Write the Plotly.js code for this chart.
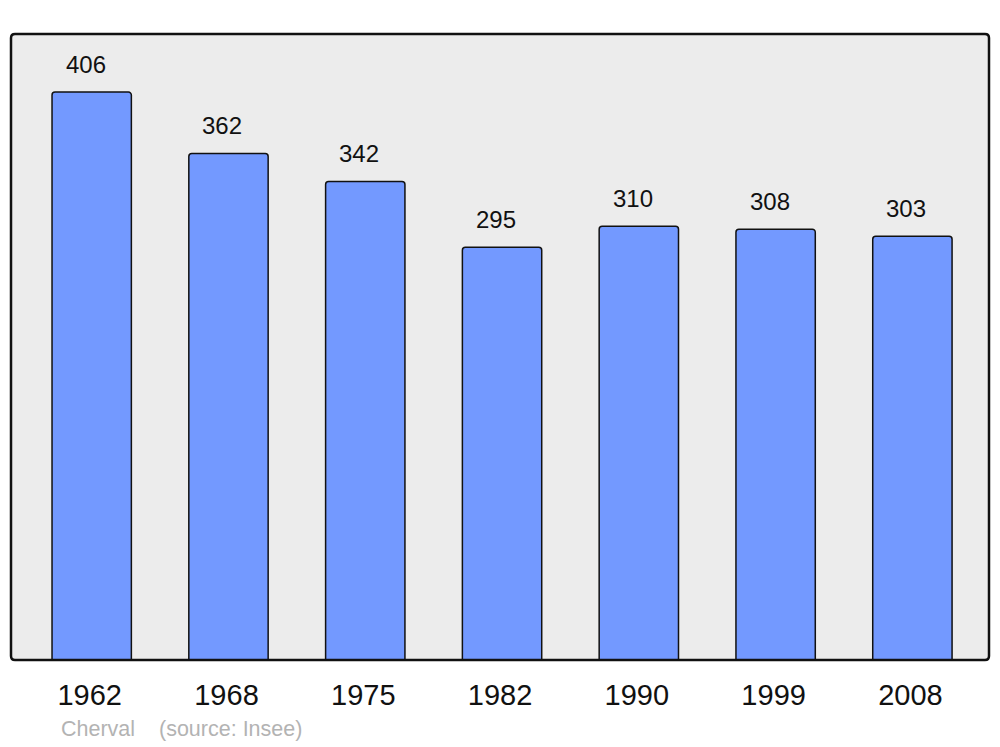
<!DOCTYPE html>
<html><head><meta charset="utf-8">
<script src="https://cdn.plot.ly/plotly-3.0.1.min.js"></script>
<style>html,body{margin:0;padding:0;background:#fff}</style>
</head><body>
<div id="chart" style="width:1000px;height:747px"></div>
<script>
const years = ["1962","1968","1975","1982","1990","1999","2008"];
const population = [406, 362, 342, 295, 310, 308, 303];
const placeName = "Cherval";
const sourceText = "(source: Insee)";

const trace = {
  type: "bar",
  x: years,
  y: population,
  width: 0.58,
  marker: {color: "#7399FF", line: {color: "#111111", width: 1.5}, cornerradius: 3},
  hoverinfo: "x+y"
};

const annotations = years.map((yr, i) => ({
  x: i, y: population[i], xref: "x", yref: "y",
  text: String(population[i]), showarrow: false,
  yanchor: "middle", yshift: 28, xshift: -6,
  font: {family: "Liberation Sans, Arial, sans-serif", size: 24, color: "#111"}
}));
annotations.push({
  xref: "paper", yref: "paper", x: 0.049, y: 0, yshift: -69, xanchor: "left", yanchor: "middle",
  text: placeName, showarrow: false,
  font: {family: "Liberation Sans, Arial, sans-serif", size: 21.5, color: "#b3b3b3"}
});
annotations.push({
  xref: "paper", yref: "paper", x: 0.149, y: 0, yshift: -69, xanchor: "left", yanchor: "middle",
  text: sourceText, showarrow: false,
  font: {family: "Liberation Sans, Arial, sans-serif", size: 21.5, color: "#b3b3b3"}
});

const layout = {
  width: 1000, height: 747,
  margin: {l: 11, r: 11, t: 34, b: 87, pad: 0},
  paper_bgcolor: "#ffffff",
  plot_bgcolor: "#ececec",
  showlegend: false,
  xaxis: {
    type: "category", range: [-0.59, 6.56],
    showgrid: false, zeroline: false, showline: false,
    ticks: "", ticklabelstandoff: 15, ticklabelshift: -2,
    tickfont: {family: "Liberation Sans, Arial, sans-serif", size: 29, color: "#111"}
  },
  yaxis: {
    range: [0, 447.5], showgrid: false, zeroline: false, showline: false,
    showticklabels: false, ticks: ""
  },
  annotations: annotations,
  shapes: [{
    type: "path", xref: "paper", yref: "paper",
    xsizemode: "pixel", ysizemode: "pixel", xanchor: 0, yanchor: 0,
    path: "M 4,0 L 974,0 Q 978,0 978,4 L 978,622 Q 978,626 974,626 L 4,626 Q 0,626 0,622 L 0,4 Q 0,0 4,0 Z",
    line: {color: "#111111", width: 2.5}, layer: "above"
  }]
};

Plotly.newPlot("chart", [trace], layout, {displayModeBar: false, staticPlot: true});
</script>
</body></html>
